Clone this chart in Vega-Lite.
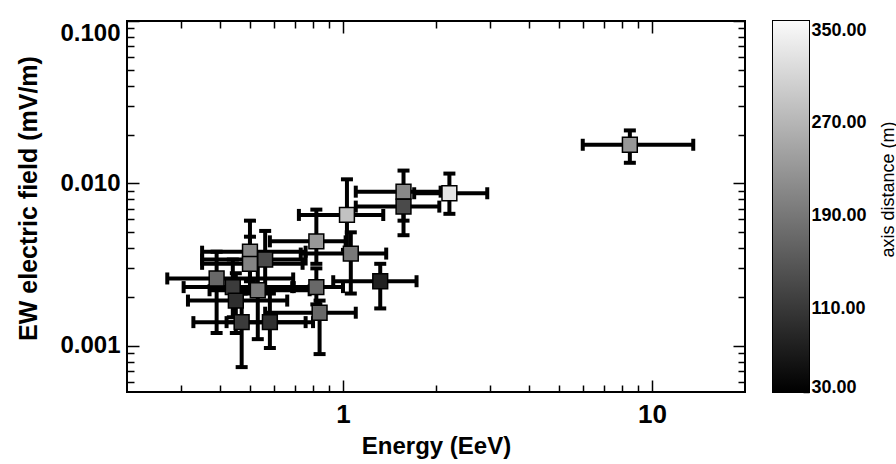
{
  "$schema": "https://vega.github.io/schema/vega-lite/v6.json",
  "background": "white",
  "padding": {"left": 15, "top": 19, "right": 2, "bottom": 2},
  "spacing": 24,
  "config": {
    "view": {"stroke": "black", "strokeWidth": 2},
    "font": "Liberation Sans",
    "axis": {"domain": false, "grid": false, "tickColor": "black", "tickWidth": 1.5, "labelColor": "black", "titleColor": "black", "labelFont": "Liberation Sans", "titleFont": "Liberation Sans"}
  },
  "datasets": {
    "pts": [
      {"id": "A", "E": 1.03, "Elo": 0.72, "Ehi": 1.35, "V": 0.0064, "Vlo": 0.0039, "Vhi": 0.0106, "d": 281},
      {"id": "B", "E": 1.57, "Elo": 1.10, "Ehi": 2.07, "V": 0.0089, "Vlo": 0.0059, "Vhi": 0.0120, "d": 211},
      {"id": "C", "E": 1.57, "Elo": 1.10, "Ehi": 2.05, "V": 0.0072, "Vlo": 0.0048, "Vhi": 0.0096, "d": 130},
      {"id": "D", "E": 2.21, "Elo": 1.70, "Ehi": 2.93, "V": 0.0087, "Vlo": 0.0065, "Vhi": 0.0115, "d": 321},
      {"id": "E", "E": 0.82, "Elo": 0.58, "Ehi": 1.02, "V": 0.0044, "Vlo": 0.0032, "Vhi": 0.0069, "d": 231},
      {"id": "F", "E": 1.06, "Elo": 0.73, "Ehi": 1.38, "V": 0.0037, "Vlo": 0.0021, "Vhi": 0.0050, "d": 191},
      {"id": "G1", "E": 0.50, "Elo": 0.35, "Ehi": 0.757, "V": 0.0038, "Vlo": 0.0025, "Vhi": 0.0059, "d": 211},
      {"id": "G2", "E": 0.50, "Elo": 0.35, "Ehi": 0.74, "V": 0.0032, "Vlo": 0.0021, "Vhi": 0.0047, "d": 205},
      {"id": "H", "E": 0.56, "Elo": 0.35, "Ehi": 0.757, "V": 0.0034, "Vlo": 0.0022, "Vhi": 0.0051, "d": 130},
      {"id": "I", "E": 0.39, "Elo": 0.27, "Ehi": 0.69, "V": 0.0026, "Vlo": 0.0012, "Vhi": 0.0038, "d": 171},
      {"id": "J", "E": 0.44, "Elo": 0.305, "Ehi": 0.693, "V": 0.0023, "Vlo": 0.0015, "Vhi": 0.0034, "d": 110},
      {"id": "K", "E": 0.53, "Elo": 0.37, "Ehi": 0.78, "V": 0.0022, "Vlo": 0.0011, "Vhi": 0.0032, "d": 191},
      {"id": "L", "E": 0.82, "Elo": 0.685, "Ehi": 1.0, "V": 0.0023, "Vlo": 0.0018, "Vhi": 0.0030, "d": 171},
      {"id": "M", "E": 1.32, "Elo": 0.93, "Ehi": 1.73, "V": 0.0025, "Vlo": 0.0017, "Vhi": 0.0032, "d": 70},
      {"id": "N", "E": 0.45, "Elo": 0.315, "Ehi": 0.66, "V": 0.0019, "Vlo": 0.0012, "Vhi": 0.0028, "d": 90},
      {"id": "O", "E": 0.84, "Elo": 0.56, "Ehi": 1.10, "V": 0.0016, "Vlo": 0.00089, "Vhi": 0.0019, "d": 171},
      {"id": "P", "E": 0.47, "Elo": 0.328, "Ehi": 0.757, "V": 0.0014, "Vlo": 0.00074, "Vhi": 0.0021, "d": 110},
      {"id": "Q", "E": 0.58, "Elo": 0.42, "Ehi": 0.80, "V": 0.0014, "Vlo": 0.00097, "Vhi": 0.0021, "d": 94},
      {"id": "R", "E": 8.48, "Elo": 5.97, "Ehi": 13.6, "V": 0.0173, "Vlo": 0.0134, "Vhi": 0.0212, "d": 231}
    ]
  },
  "hconcat": [
    {
      "width": 618,
      "height": 371,
      "data": {"name": "pts"},
      "layer": [
        {
          "mark": {"type": "errorbar", "ticks": {"size": 12, "thickness": 4, "opacity": 1, "color": "black"}, "rule": {"opacity": 1}, "thickness": 4, "color": "black"},
          "encoding": {
            "x": {"field": "Elo", "type": "quantitative", "title": "Energy (EeV)",
              "scale": {"type": "log", "domain": [0.2, 20], "nice": false},
              "axis": {"orient": "bottom", "values": [0.3, 0.4, 0.5, 0.6, 0.7, 0.8, 0.9, 1, 2, 3, 4, 5, 6, 7, 8, 9, 10],
                "tickSize": {"condition": {"test": "datum.value == 1 || datum.value == 10", "value": -12}, "value": -7},
                "labelExpr": "datum.value == 1 || datum.value == 10 ? datum.label : ''",
                "format": "~g", "labelFontSize": 26, "labelFontWeight": "bold", "labelPadding": 21, "labelFlush": false,
                "titleFontSize": 24, "titleFontWeight": "bold", "titlePadding": 7}},
            "x2": {"field": "Ehi"},
            "y": {"field": "V", "type": "quantitative", "title": "EW electric field (mV/m)",
              "scale": {"type": "log", "domain": [0.00052, 0.1], "nice": false},
              "axis": {"orient": "left", "values": [0.0006, 0.0007, 0.0008, 0.0009, 0.001, 0.002, 0.003, 0.004, 0.005, 0.006, 0.007, 0.008, 0.009, 0.01, 0.02, 0.03, 0.04, 0.05, 0.06, 0.07, 0.08, 0.09, 0.1],
                "tickSize": {"condition": {"test": "datum.value == 0.001 || datum.value == 0.01 || datum.value == 0.1", "value": -12}, "value": -7},
                "labelExpr": "datum.value == 0.001 || datum.value == 0.01 || datum.value == 0.1 ? datum.label : ''",
                "format": ".3f", "labelFontSize": 24, "labelFontWeight": "bold", "labelPadding": 19, "labelFlush": true,
                "titleFontSize": 25, "titleFontWeight": "bold", "titlePadding": 18, "titleY": 177}}
          }
        },
        {
          "mark": {"type": "errorbar", "ticks": {"size": 12, "thickness": 4, "opacity": 1, "color": "black"}, "rule": {"opacity": 1}, "thickness": 4, "color": "black"},
          "encoding": {
            "x": {"field": "E", "type": "quantitative", "scale": {"type": "log", "domain": [0.2, 20], "nice": false}, "axis": null},
            "y": {"field": "Vlo", "type": "quantitative", "scale": {"type": "log", "domain": [0.00052, 0.1], "nice": false}, "axis": null},
            "y2": {"field": "Vhi"}
          }
        },
        {
          "mark": {"type": "square", "size": 220, "filled": true, "opacity": 1, "stroke": "black", "strokeWidth": 1.5},
          "encoding": {
            "x": {"field": "E", "type": "quantitative", "scale": {"type": "log", "domain": [0.2, 20], "nice": false}, "axis": null},
            "y": {"field": "V", "type": "quantitative", "scale": {"type": "log", "domain": [0.00052, 0.1], "nice": false}, "axis": null},
            "color": {"field": "d", "type": "quantitative", "scale": {"domain": [30, 350], "range": ["#000000", "#ffffff"]}, "legend": null}
          }
        },
        {
          "mark": {"type": "point", "opacity": 0},
          "encoding": {
            "x": {"field": "E", "type": "quantitative", "scale": {"type": "log", "domain": [0.2, 20], "nice": false},
              "axis": {"orient": "top", "title": null, "labels": false, "values": [0.3, 0.4, 0.5, 0.6, 0.7, 0.8, 0.9, 1, 2, 3, 4, 5, 6, 7, 8, 9, 10],
                "tickSize": {"condition": {"test": "datum.value == 1 || datum.value == 10", "value": -12}, "value": -7}}},
            "y": {"field": "V", "type": "quantitative", "scale": {"type": "log", "domain": [0.00052, 0.1], "nice": false},
              "axis": {"orient": "right", "title": null, "labels": false, "values": [0.0006, 0.0007, 0.0008, 0.0009, 0.001, 0.002, 0.003, 0.004, 0.005, 0.006, 0.007, 0.008, 0.009, 0.01, 0.02, 0.03, 0.04, 0.05, 0.06, 0.07, 0.08, 0.09, 0.1],
                "tickSize": {"condition": {"test": "datum.value == 0.001 || datum.value == 0.01 || datum.value == 0.1", "value": -12}, "value": -7}}}
          }
        }
      ]
    },
    {
      "width": 36,
      "height": 371,
      "data": {"values": [{"lo": 30, "hi": 350}]},
      "layer": [
        {
          "mark": {"type": "rect", "fill": {"gradient": "linear", "x1": 0, "y1": 1, "x2": 0, "y2": 0, "stops": [{"offset": 0, "color": "#000000"}, {"offset": 1, "color": "#fafafa"}]}},
          "encoding": {
            "x": {"datum": 0, "type": "quantitative", "scale": {"domain": [0, 1]}, "axis": null},
            "x2": {"datum": 1},
            "y": {"field": "lo", "type": "quantitative", "scale": {"domain": [30, 350], "nice": false, "zero": false},
              "axis": {"orient": "right", "values": [30, 70, 110, 150, 190, 230, 270, 310, 350], "tickSize": -6,
                "labelExpr": "datum.value % 80 == 30 ? format(datum.value, '.2f') : ''",
                "labelBaseline": {"condition": {"test": "datum.value == 30", "value": "alphabetic"}, "value": "top"},
                "labelFontSize": 18, "labelFontWeight": "bold", "labelPadding": 8, "labelFlush": false,
                "title": "axis distance (m)", "titleAngle": 270, "titleFontSize": 18, "titleFontWeight": "normal",
                "titleBaseline": "alphabetic", "titleAlign": "center", "titleX": 84, "titleY": 168}},
            "y2": {"field": "hi"}
          }
        },
        {
          "mark": {"type": "rect", "opacity": 0},
          "encoding": {
            "x": {"datum": 0, "type": "quantitative", "scale": {"domain": [0, 1]}, "axis": null},
            "x2": {"datum": 1},
            "y": {"field": "lo", "type": "quantitative", "scale": {"domain": [30, 350], "nice": false, "zero": false},
              "axis": {"orient": "left", "values": [70, 110, 150, 190, 230, 270, 310], "tickSize": -6, "labels": false, "title": null}},
            "y2": {"field": "hi"}
          }
        }
      ]
    }
  ]
}
